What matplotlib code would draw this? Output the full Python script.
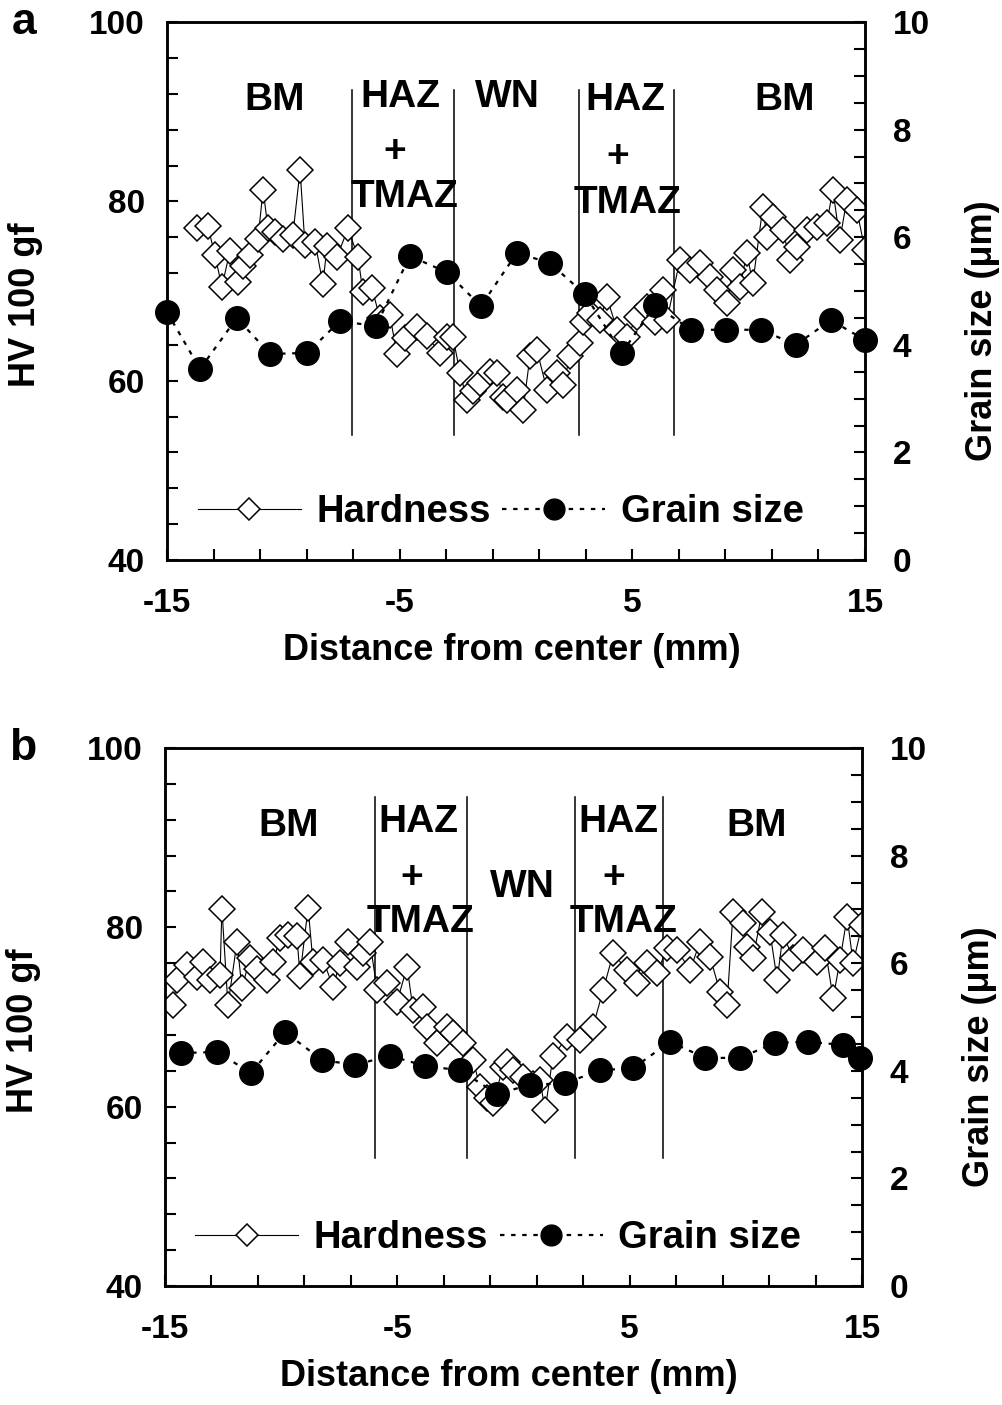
import matplotlib
matplotlib.use("Agg")
import matplotlib.pyplot as plt
import numpy as np
from matplotlib.ticker import FixedLocator, MultipleLocator
from matplotlib.lines import Line2D

plt.rcParams['font.family'] = ['Liberation Sans', 'DejaVu Sans']
plt.rcParams['font.weight'] = 'bold'
plt.rcParams['axes.unicode_minus'] = False

# ---- panel a ----
hard_x_a = [-13.71, -13.24, -12.94, -12.64, -12.29, -11.95, -11.73, -11.43, -11.09, -10.87,
            -10.66, -10.36, -10.02, -9.59, -9.28, -9.07, -8.64, -8.30, -8.12, -7.69,
            -7.22, -6.79, -6.58, -6.19, -5.85, -5.42, -5.12, -4.77, -4.26, -3.83,
            -3.27, -2.97, -2.71, -2.41, -2.11, -1.85, -1.55, -1.12, -0.82, -0.56,
            -0.39, 0.04, 0.30, 0.60, 0.90, 1.33, 1.76, 2.02, 2.32, 2.75,
            2.88, 3.18, 3.61, 3.91, 4.34, 4.77, 5.20, 5.63, 5.97, 6.31,
            6.49, 7.05, 7.48, 7.91, 8.34, 8.64, 9.07, 9.33, 9.63, 9.92,
            10.18, 10.61, 10.78, 11.04, 11.47, 11.77, 12.07, 12.50, 12.93, 13.36,
            13.62, 13.92, 14.22, 14.65, 15.00]
hard_a = [77.0, 77.2, 74.0, 70.5, 74.5, 71.0, 72.8, 74.0, 75.8, 81.3,
          77.0, 76.6, 75.8, 76.3, 83.5, 75.1, 75.5, 70.8, 75.0, 73.8,
          77.0, 73.8, 69.9, 70.3, 67.0, 67.3, 63.0, 64.8, 66.0, 65.0,
          63.1, 64.9, 64.9, 60.9, 57.9, 58.8, 59.8, 61.0, 60.9, 58.2,
          57.9, 59.0, 56.7, 62.7, 63.4, 59.0, 60.9, 59.5, 62.7, 64.2,
          66.5, 67.6, 66.8, 69.3, 65.7, 64.9, 67.1, 68.2, 66.5, 70.1,
          66.8, 73.5, 72.4, 73.1, 71.6, 70.1, 68.7, 72.4, 70.5, 74.2,
          70.9, 79.4, 76.0, 78.3, 76.8, 73.5, 74.9, 76.8, 77.1, 77.6,
          81.3, 75.7, 80.2, 79.0, 74.6]
grain_x_a = [-15.0, -13.58, -12.0, -10.57, -8.98, -7.57, -6.02, -4.56, -2.97, -1.51, 0.04,
             1.46, 2.96, 4.55, 5.97, 7.52, 9.02, 10.53, 12.03, 13.53, 15.0]
grain_a = [4.61, 3.55, 4.50, 3.83, 3.85, 4.44, 4.35, 5.65, 5.35, 4.72, 5.71,
           5.52, 4.94, 3.85, 4.74, 4.28, 4.28, 4.28, 4.00, 4.46, 4.09]
zones_a = [-7.05, -2.67, 2.70, 6.80]
zone_span_a = (54.0, 92.4)

# ---- panel b ----
hard_x_b = [-14.66, -14.48, -14.05, -13.62, -13.36, -13.06, -12.63, -12.55, -12.29, -11.90,
            -11.69, -11.34, -11.04, -10.61, -10.35, -10.05, -9.71, -9.32, -9.19, -8.84,
            -8.63, -8.20, -7.77, -7.47, -7.12, -6.73, -6.48, -6.18, -5.87, -5.44,
            -5.01, -4.58, -4.32, -3.89, -3.72, -3.29, -2.86, -2.60, -2.17, -1.74,
            -1.44, -1.14, -0.88, -0.45, -0.28, -0.02, 0.41, 0.84, 1.14, 1.36,
            1.70, 2.31, 2.86, 3.42, 3.86, 4.29, 4.89, 5.32, 5.75, 6.18,
            6.61, 7.04, 7.60, 8.03, 8.46, 8.89, 9.19, 9.45, 9.88, 10.05,
            10.31, 10.70, 11.04, 11.35, 11.60, 12.03, 12.46, 13.07, 13.41, 13.76,
            14.06, 14.36, 14.62, 15.00]
hard_b = [71.3, 74.1, 75.8, 74.5, 76.1, 74.1, 74.7, 82.1, 71.3, 78.4,
          73.2, 76.6, 75.3, 74.1, 76.1, 78.8, 79.2, 79.0, 74.6, 82.2,
          76.1, 76.4, 73.4, 76.0, 78.4, 75.6, 77.1, 78.4, 73.0, 73.8,
          71.7, 75.6, 70.8, 71.1, 68.9, 67.1, 68.9, 68.2, 67.1, 65.2,
          62.2, 61.0, 60.4, 64.4, 65.0, 64.1, 63.3, 62.5, 63.0, 59.6,
          65.6, 67.8, 67.4, 68.9, 73.0, 77.1, 75.2, 73.8, 76.0, 74.9,
          77.7, 77.5, 75.2, 78.4, 76.7, 72.8, 71.3, 81.7, 80.5, 77.8,
          76.6, 81.7, 79.5, 74.1, 79.2, 76.6, 77.5, 76.1, 77.7, 72.1,
          76.4, 81.2, 76.0, 80.3]
grain_x_b = [-14.31, -12.76, -11.30, -9.83, -8.24, -6.82, -5.31, -3.81, -2.30, -0.71, 0.71,
             2.22, 3.73, 5.15, 6.74, 8.25, 9.75, 11.26, 12.68, 14.19, 14.92]
grain_b = [4.33, 4.35, 3.96, 4.72, 4.20, 4.11, 4.28, 4.09, 4.01, 3.57, 3.74,
           3.77, 4.01, 4.05, 4.54, 4.24, 4.24, 4.52, 4.54, 4.48, 4.24]
zones_b = [-5.96, -2.00, 2.65, 6.44]
zone_span_b = (54.3, 94.5)

# zone labels: (text, x, y)
labels_a = [("BM", -10.36, 91.3), ("HAZ", -4.99, 91.6), ("+", -5.2, 85.5), ("TMAZ", -4.77, 80.5),
            ("WN", -0.39, 91.6), ("HAZ", 4.68, 91.3), ("+", 4.38, 84.9), ("TMAZ", 4.81, 79.8),
            ("BM", 11.56, 91.3)]
labels_b = [("BM", -9.70, 91.3), ("HAZ", -4.11, 91.75), ("+", -4.37, 85.5), ("TMAZ", -4.02, 80.6),
            ("WN", 0.37, 84.5), ("HAZ", 4.50, 91.75), ("+", 4.33, 85.5), ("TMAZ", 4.72, 80.6),
            ("BM", 10.48, 91.3)]

TICK_FS = 24
LAB_FS = 26
LEG_FS = 27.5
ZONE_FS = 28
DASH = (0, (2, 3))


def draw_panel(rect, letter, hx, hv, gx, gs, zones, span, labels):
    ax = fig.add_axes(rect)
    ax2 = ax.twinx()

    ax.plot(hx, hv, color='black', lw=0.8, marker='D', ms=13,
            mfc='white', mec='black', mew=1.1, zorder=3)
    ax2.plot(gx, gs, color='black', lw=1.6, ls=DASH, marker='o', ms=17,
             mfc='black', mec='black', zorder=3, clip_on=False)

    for z in zones:
        ax.plot([z, z], span, color='black', lw=1.1, zorder=2)
    for t, x, y in labels:
        ax.text(x, y, t, ha='center', va='center', fontsize=ZONE_FS, fontweight='bold')

    ax.set_xlim(-15, 15)
    ax.set_ylim(40, 100)
    ax2.set_ylim(0, 10)

    ax.xaxis.set_major_locator(FixedLocator([-15, -5, 5, 15]))
    ax.xaxis.set_minor_locator(FixedLocator(np.arange(-13, 15, 2)))
    ax.yaxis.set_major_locator(MultipleLocator(20))
    ax.yaxis.set_minor_locator(MultipleLocator(4))
    ax2.yaxis.set_major_locator(MultipleLocator(2))
    ax2.yaxis.set_minor_locator(MultipleLocator(0.5))

    for a in (ax, ax2):
        for s in a.spines.values():
            s.set_linewidth(1.8)
        a.tick_params(which='both', direction='in', length=8, width=1.5,
                      labelsize=TICK_FS, pad=16)
    ax2.tick_params(axis='y', pad=20)
    ax.tick_params(axis='x', pad=20)
    ax.tick_params(axis='both', which='both', top=False, right=False)
    for lab in ax.get_xticklabels() + ax.get_yticklabels() + ax2.get_yticklabels():
        lab.set_fontweight('bold')

    ax.set_xlabel("Distance from center (mm)", fontsize=LAB_FS, fontweight='bold')
    ax.set_ylabel("HV 100 gf", fontsize=LAB_FS, fontweight='bold')
    ax2.set_ylabel("Grain size (\u03bcm)", fontsize=LAB_FS, fontweight='bold')
    ax.xaxis.set_label_coords(0.494, -0.136)
    ax.yaxis.set_label_coords(-0.178, 0.474)
    ax2.yaxis.set_label_coords(1.143, 0.427)

    hl = Line2D([], [], color='black', lw=0.8, marker='D', ms=11, mfc='white', mec='black', mew=1.1)
    gl = Line2D([], [], color='black', lw=1.6, ls=DASH, marker='o', ms=15, mfc='black')
    ax2.legend([hl, gl], ["Hardness", "Grain size"], loc='center', bbox_to_anchor=(0.478, 0.089),
               ncol=2, frameon=False, fontsize=LEG_FS, handlelength=2.7, handletextpad=0.4,
               columnspacing=0.3, borderpad=0)

    fig.text(rect[0] - 0.142, rect[1] + rect[3], letter, fontsize=32, fontweight='bold',
             ha='center', va='center')
    return ax, ax2


fig = plt.figure(figsize=(10.03, 14.05), dpi=100)
draw_panel([0.1665, 0.6014, 0.6959, 0.3829], "a", hard_x_a, hard_a, grain_x_a, grain_a,
           zones_a, zone_span_a, labels_a)
draw_panel([0.1645, 0.0847, 0.6949, 0.3829], "b", hard_x_b, hard_b, grain_x_b, grain_b,
           zones_b, zone_span_b, labels_b)

fig.savefig("out.png", dpi=100)
